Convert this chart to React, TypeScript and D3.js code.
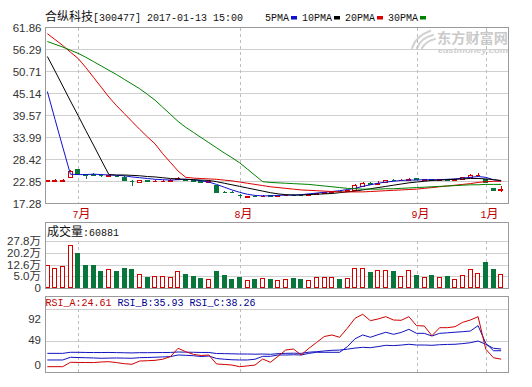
import React from 'react';
import * as d3 from 'd3';

// ---- data ----
const openP = [22.8, 22.9, 22.9, 24.0, 25.8, 24.6, 24.6, 24.4, 24.1, 24.2, 24.0, 22.9, 22.6, 23.0, 22.8, 22.8, 22.9, 23.3, 23.3, 23.0, 22.9, 22.7, 21.8, 20.2, 20.1, 19.4, 18.9, 19.1, 19.0, 19.2, 19.1, 19.2, 19.4, 19.4, 19.3, 19.5, 19.8, 20.1, 20.4, 20.3, 20.7, 21.5, 22.3, 22.2, 22.6, 23.2, 23.0, 23.1, 23.6, 23.2, 23.4, 23.1, 23.3, 23.2, 23.4, 23.9, 24.3, 23.3, 21.0, 20.7];
const closeP = [23.0, 23.0, 23.0, 25.5, 24.7, 24.5, 24.5, 24.3, 24.3, 24.1, 23.0, 22.8, 23.1, 22.9, 22.9, 22.9, 23.0, 23.7, 23.2, 22.9, 22.7, 22.8, 20.2, 20.1, 20.0, 19.3, 19.0, 19.0, 19.1, 19.1, 19.2, 19.3, 19.3, 19.3, 19.5, 19.8, 20.1, 20.3, 20.3, 20.6, 21.9, 22.4, 22.2, 22.4, 23.1, 23.1, 23.2, 23.5, 23.4, 23.4, 23.2, 23.3, 23.2, 23.3, 23.8, 24.4, 24.5, 22.5, 20.6, 20.8];
const highP = [23.1, 23.3, 23.3, 25.6, 26.0, 24.7, 24.8, 24.6, 24.4, 24.3, 24.1, 23.0, 23.2, 23.1, 23.0, 23.1, 23.3, 23.8, 23.4, 23.2, 23.0, 23.0, 21.9, 20.4, 20.3, 19.5, 19.1, 19.2, 19.3, 19.3, 19.3, 19.4, 19.5, 19.5, 19.6, 19.9, 20.2, 20.4, 20.5, 20.7, 22.1, 22.5, 22.6, 22.8, 23.2, 23.4, 23.4, 23.6, 23.7, 23.5, 23.5, 23.5, 23.4, 23.4, 23.9, 24.6, 24.9, 23.5, 21.1, 21.5];
const lowP = [22.7, 22.9, 22.9, 23.9, 24.6, 23.5, 24.2, 24.0, 24.0, 23.9, 22.9, 21.7, 22.5, 22.6, 22.6, 22.7, 22.8, 23.2, 22.9, 22.6, 22.5, 22.6, 20.1, 19.9, 19.8, 18.6, 18.8, 18.9, 18.9, 18.9, 19.0, 19.1, 19.1, 19.1, 19.2, 19.4, 19.7, 20.0, 20.1, 20.2, 20.6, 21.3, 21.9, 22.1, 22.5, 22.9, 22.9, 23.0, 23.2, 23.0, 22.8, 23.0, 22.9, 23.0, 23.3, 23.8, 24.1, 22.3, 20.4, 20.0];

// volume in 万
const volume = [13.6, 11.6, 13.0, 25.4, 20.5, 13.6, 13.6, 10.0, 11.0, 10.0, 11.8, 11.2, 8.3, 6.5, 6.9, 6.9, 6.5, 10.0, 8.3, 7.1, 6.1, 5.3, 10.0, 7.7, 5.3, 6.5, 4.7, 5.3, 5.7, 5.3, 4.9, 5.3, 5.9, 5.3, 4.7, 6.3, 6.3, 6.3, 5.3, 5.9, 12.0, 11.6, 9.6, 10.4, 10.4, 10.0, 6.9, 10.4, 7.7, 6.3, 7.5, 6.3, 6.9, 5.3, 7.5, 11.0, 8.9, 15.4, 11.2, 8.3];

const ma5 = [45.6, 38.5, 31.5, 24.6, 24.5, 24.5, 24.6, 24.5, 24.4, 24.3, 24.2, 23.9, 23.7, 23.5, 23.3, 23.2, 23.1, 23.2, 23.3, 23.2, 22.9, 22.6, 22.0, 21.3, 20.6, 20.0, 19.5, 19.2, 19.1, 19.1, 19.2, 19.3, 19.3, 19.4, 19.6, 19.8, 20.0, 20.2, 20.4, 20.7, 21.0, 21.5, 21.9, 22.3, 22.6, 22.8, 23.0, 23.1, 23.1, 23.2, 23.2, 23.2, 23.3, 23.4, 23.6, 23.8, 24.0, 23.8, 23.2, 22.9];
const ma10 = [54.5, 50.8, 47.0, 43.2, 39.5, 35.7, 32.0, 28.2, 24.5, 24.4, 24.4, 24.3, 24.2, 24.0, 23.9, 23.7, 23.5, 23.4, 23.3, 23.2, 23.1, 23.0, 22.7, 22.3, 21.9, 21.5, 21.1, 20.7, 20.3, 19.9, 19.6, 19.4, 19.3, 19.3, 19.4, 19.5, 19.6, 19.7, 19.9, 20.1, 20.3, 20.6, 20.9, 21.2, 21.5, 21.8, 22.1, 22.4, 22.6, 22.8, 23.0, 23.1, 23.2, 23.3, 23.4, 23.5, 23.5, 23.4, 23.2, 23.0];
const ma20 = [60.3, 58.8, 57.3, 55.6, 54.0, 51.7, 49.2, 46.7, 44.2, 42.0, 40.0, 38.0, 36.0, 34.1, 32.3, 29.8, 27.6, 25.4, 23.8, 23.6, 23.5, 23.4, 23.3, 23.1, 22.9, 22.6, 22.3, 22.0, 21.7, 21.4, 21.2, 21.0, 20.8, 20.6, 20.5, 20.4, 20.3, 20.2, 20.1, 20.1, 20.1, 20.1, 20.2, 20.3, 20.4, 20.5, 20.6, 20.7, 20.8, 21.0, 21.2, 21.4, 21.6, 21.8, 22.0, 22.2, 22.5, 22.7, 22.8, 22.8];
const ma30 = [58.3, 57.6, 56.9, 56.1, 55.3, 54.3, 53.2, 52.1, 51.0, 49.9, 48.7, 47.5, 46.3, 44.9, 43.4, 41.6, 39.8, 38.0, 36.5, 35.2, 33.9, 32.6, 31.3, 30.0, 28.8, 27.5, 25.9, 24.3, 22.7, 22.5, 22.4, 22.3, 22.2, 22.1, 22.0, 21.8, 21.6, 21.4, 21.2, 21.0, 20.9, 20.8, 20.8, 20.8, 20.9, 20.9, 21.0, 21.1, 21.2, 21.3, 21.4, 21.5, 21.6, 21.7, 21.8, 21.9, 21.9, 22.0, 22.0, 22.0];

const rsiA = [14.5, 14.5, 14.5, 20.4, 20.2, 20.1, 20.0, 20.8, 21.2, 20.0, 18.5, 17.7, 22.1, 22.5, 23.0, 24.5, 28.0, 39.2, 34.6, 31.0, 29.5, 30.2, 18.1, 17.5, 16.7, 14.5, 15.5, 16.7, 24.8, 20.4, 28.5, 36.9, 38.2, 30.2, 39.2, 47.0, 55.0, 57.1, 54.0, 66.1, 79.5, 84.9, 76.3, 78.6, 81.7, 77.2, 76.8, 81.7, 69.6, 69.2, 56.1, 66.9, 66.9, 68.2, 74.1, 77.2, 81.7, 38.0, 26.5, 24.61];
const rsiB = [23.5, 23.5, 23.5, 27.1, 26.8, 26.5, 26.2, 25.8, 26.0, 26.2, 26.0, 25.8, 26.6, 26.8, 27.2, 27.6, 28.0, 30.2, 29.8, 29.2, 28.2, 28.8, 25.5, 24.5, 23.8, 23.5, 23.5, 24.5, 28.4, 28.4, 30.2, 30.2, 30.5, 30.2, 32.4, 33.8, 33.8, 33.8, 33.8, 41.3, 52.0, 57.1, 54.0, 57.5, 60.7, 58.0, 60.5, 64.7, 59.3, 59.3, 55.7, 59.3, 60.0, 60.8, 61.5, 62.4, 69.6, 45.9, 35.9, 35.93];
const rsiC = [32.4, 32.4, 32.4, 33.8, 33.8, 33.6, 33.5, 33.5, 33.6, 33.4, 33.2, 33.0, 33.3, 33.3, 33.4, 33.5, 33.6, 34.2, 34.0, 33.8, 33.6, 33.6, 32.2, 32.0, 31.8, 31.5, 31.5, 31.3, 31.5, 31.1, 32.0, 32.4, 32.6, 32.4, 34.0, 34.6, 35.6, 36.5, 36.8, 38.0, 39.5, 40.5, 40.0, 41.5, 43.2, 42.8, 43.5, 44.6, 43.6, 43.6, 43.2, 44.0, 44.4, 44.6, 45.5, 46.7, 49.0, 44.6, 39.2, 38.26];

const priceTicks = [61.86, 56.29, 50.71, 45.14, 39.57, 33.99, 28.42, 22.85, 17.28];
const volTickLabels = ['27.8万', '20.2万', '12.6万', '5.0万', '0'];
const rsiTicks = [92, 49, 0];
const monthLabels = ['7月', '8月', '9月', '1月'];
const monthStart = [4, 25, 48, 57];
const maNames = ['5PMA', '10PMA', '20PMA', '30PMA'];

const RED = '#d40000';
const GREEN = '#08763a';
const BLUE = '#1010d0';
const maColors = [BLUE, '#000000', '#dd0000', '#008000'];
const GRID = '#cfcfcf';
const FRAME = '#9a9a9a';
const LABEL = '#333333';

const L = 45, R = 508;
const mainTop = 27.5, mainBot = 203;
const volTop = 222, volGrid = 241, volBot = 288;
const rsiTop = 296, rsiGrid = 309, rsiBot = 372;

// bitmap-like text: CJK 12px cells, ASCII 6px cells
function MonoText({ x, y, text, fill = LABEL }: { x: number; y: number; text: string; fill?: string }) {
  const runs: [string, boolean][] = [];
  for (const ch of text) {
    const cjk = ch.charCodeAt(0) > 255;
    const last = runs[runs.length - 1];
    if (last && last[1] === cjk) last[0] += ch;
    else runs.push([ch, cjk]);
  }
  let cx = x;
  return (
    <g fill={fill}>
      {runs.map(([s, cjk], i) => {
        const w = s.length * (cjk ? 12 : 6);
        const el = (
          <text key={i} x={cx} y={y} textLength={w} lengthAdjust="spacingAndGlyphs"
            fontFamily={cjk ? 'Noto Sans CJK SC' : 'Liberation Mono'} fontSize={cjk ? 12 : 11.5}
            style={{ whiteSpace: 'pre' }}>
            {s}
          </text>
        );
        cx += w;
        return el;
      })}
    </g>
  );
}

export default function App() {
  const n = closeP.length;
  const x = d3.scaleBand<number>().domain(d3.range(n)).range([43.5, 505]).paddingInner(0.3).paddingOuter(0.15);
  const bw = x.bandwidth();
  const cx = (i: number) => (x(i) as number) + bw / 2;

  const y = d3.scaleLinear().domain([17.28, 61.86]).range([mainBot, mainTop]);
  const vy = d3.scaleLinear().domain([0, 27.8]).range([volBot, volGrid]);
  const vTickY = d3.scalePoint<string>().domain(volTickLabels).range([volGrid, volBot]);
  const ry = d3.scaleLinear().domain([49, 92]).range([341, rsiGrid]);
  const rLabelY = d3.scaleLinear().domain([0, 92]).range([364, 318]);

  const line = (arr: number[], sc: (v: number) => number) =>
    d3.line<number>().x((_, i) => cx(i)).y((d) => sc(d))(arr) || '';

  const monthX = monthStart.map((i) => Math.round(cx(i)) + 0.5);

  return (
    <svg width={532} height={387} style={{ position: 'absolute', left: 0, top: 0, background: '#fff' }}
      fontFamily="Liberation Sans, Arial, sans-serif">
      <rect width={532} height={387} fill="#fff" />

      {/* title + legend */}
      <MonoText x={45} y={21} text="合纵科技[300477] 2017-01-13 15:00" fill="#111" />
      {(() => {
        let lx = 265;
        return maNames.map((nm, k) => {
          const w = nm.length * 6;
          const g = (
            <g key={nm}>
              <MonoText x={lx} y={21} text={nm} fill="#111" />
              <rect x={lx + w + 2} y={16} width={6} height={3.5} fill={maColors[k]} />
            </g>
          );
          lx += w + 2 + 6 + 5;
          return g;
        });
      })()}

      {/* watermark */}
      <g fill="none" stroke="#d2d2d2" strokeWidth={2.2} strokeLinecap="round">
        <path d="M412,48 Q416,36 430,31" />
        <path d="M417,48 Q421,38 433,35" />
        <path d="M422,48 Q426,41 435,39" />
      </g>
      <text x={437} y={43} fontFamily="Noto Sans CJK SC" fontWeight="bold" fontSize={13.5} fill="#cacaca"
        textLength={71} lengthAdjust="spacingAndGlyphs">东方财富网</text>
      <text x={438} y={53} fontFamily="Liberation Sans" fontWeight="bold" fontStyle="italic" fontSize={7} fill="#cdcdcd"
        textLength={70} lengthAdjust="spacingAndGlyphs">eastmoney.com</text>

      {/* ===== main panel ===== */}
      <g shapeRendering="crispEdges">
        {priceTicks.slice(1, -1).map((t) => (
          <line key={t} x1={L} x2={R} y1={Math.round(y(t)) + 0.5} y2={Math.round(y(t)) + 0.5} stroke={GRID} />
        ))}
        {monthX.map((mx, k) => (
          <line key={k} x1={mx} x2={mx} y1={mainTop} y2={mainBot} stroke="#bdbdbd" strokeDasharray="3,3" />
        ))}
      </g>
      {priceTicks.map((t) => (
        <text key={t} x={41.5} y={y(t) + 4.5} textAnchor="end" fontSize={11.5} fill={LABEL}>{t.toFixed(2)}</text>
      ))}

      {/* candles */}
      <g shapeRendering="crispEdges">
        {closeP.map((c, i) => {
          const o = openP[i];
          const up = c >= o;
          const col = up ? RED : GREEN;
          const xl = Math.round(x(i) as number) + 0.5;
          const w = Math.round(bw) - 1;
          const xm = Math.round(cx(i)) + 0.5;
          const top = Math.round(y(Math.max(o, c)));
          const bot = Math.round(y(Math.min(o, c)));
          const h = Math.max(bot - top, 0);
          return (
            <g key={i} stroke={col}>
              <line x1={xm} x2={xm} y1={y(highP[i])} y2={top} />
              <line x1={xm} x2={xm} y1={bot} y2={y(lowP[i])} />
              {h < 1 ? (
                <line x1={xl} x2={xl + w} y1={top + 0.5} y2={top + 0.5} />
              ) : (
                <rect x={xl} y={top + 0.5} width={w} height={h} fill={up ? '#fff' : col} />
              )}
            </g>
          );
        })}
      </g>

      {/* moving averages */}
      {[ma5, ma10, ma20, ma30].map((arr, k) => (
        <path key={k} d={line(arr, y)} fill="none" stroke={maColors[k]} strokeWidth={1} />
      ))}
      <rect x={L + 0.5} y={mainTop} width={R - L} height={mainBot - mainTop} fill="none" stroke={FRAME} shapeRendering="crispEdges" />

      {/* month labels */}
      {monthLabels.map((m, k) => (
        <MonoText key={m} x={monthX[k] - 6} y={218} text={m} fill="#c00000" />
      ))}

      {/* ===== volume panel ===== */}
      <g shapeRendering="crispEdges">
        {volTickLabels.slice(0, -1).map((t) => (
          <line key={t} x1={L} x2={R} y1={Math.round(vTickY(t) as number) + 0.5} y2={Math.round(vTickY(t) as number) + 0.5} stroke={GRID} />
        ))}
        {monthX.map((mx, k) => (
          <line key={k} x1={mx} x2={mx} y1={volGrid} y2={volBot} stroke="#bdbdbd" strokeDasharray="3,3" />
        ))}
        {volume.map((v, i) => {
          const up = closeP[i] >= openP[i];
          const col = up ? RED : GREEN;
          const xl = Math.round(x(i) as number) + 0.5;
          const w = Math.round(bw) - 1;
          const top = Math.round(vy(v)) + 0.5;
          return (
            <rect key={i} x={xl} y={top} width={w} height={volBot - 0.5 - top}
              fill={up ? '#fff' : col} stroke={col} />
          );
        })}
        <rect x={L + 0.5} y={volTop + 0.5} width={R - L} height={volBot - volTop} fill="none" stroke={FRAME} />
      </g>
      <MonoText x={47} y={236} text="成交量:60881" fill="#111" />
      {volTickLabels.map((t) => (
        <text key={t} x={41} y={(vTickY(t) as number) + 4} textAnchor="end" fontSize={11.5} fill={LABEL}
          fontFamily="Liberation Sans, Noto Sans CJK SC, sans-serif">{t}</text>
      ))}

      {/* ===== RSI panel ===== */}
      <g shapeRendering="crispEdges">
        {[92, 49].map((t) => (
          <line key={t} x1={L} x2={R} y1={Math.round(ry(t)) + 0.5} y2={Math.round(ry(t)) + 0.5} stroke={GRID} />
        ))}
        {monthX.map((mx, k) => (
          <line key={k} x1={mx} x2={mx} y1={rsiGrid} y2={rsiBot} stroke="#bdbdbd" strokeDasharray="3,3" />
        ))}
      </g>
      <path d={line(rsiC, ry)} fill="none" stroke="#1212c0" />
      <path d={line(rsiB, ry)} fill="none" stroke="#1212c0" />
      <path d={line(rsiA, ry)} fill="none" stroke="#d00000" />
      <rect x={L + 0.5} y={rsiTop + 0.5} width={R - L} height={rsiBot - rsiTop} fill="none" stroke={FRAME} shapeRendering="crispEdges" />
      <MonoText x={45.5} y={306} text={`RSI_A:${rsiA[n - 1].toFixed(2)}`} fill="#c00000" />
      <MonoText x={117.5} y={306} text={`RSI_B:${rsiB[n - 1].toFixed(2)}`} fill="#000090" />
      <MonoText x={189.5} y={306} text={`RSI_C:${rsiC[n - 1].toFixed(2)}`} fill="#000090" />
      {rsiTicks.map((t) => (
        <text key={t} x={41} y={rLabelY(t) + 4.5} textAnchor="end" fontSize={11.5} fill={LABEL}>{t}</text>
      ))}
    </svg>
  );
}
